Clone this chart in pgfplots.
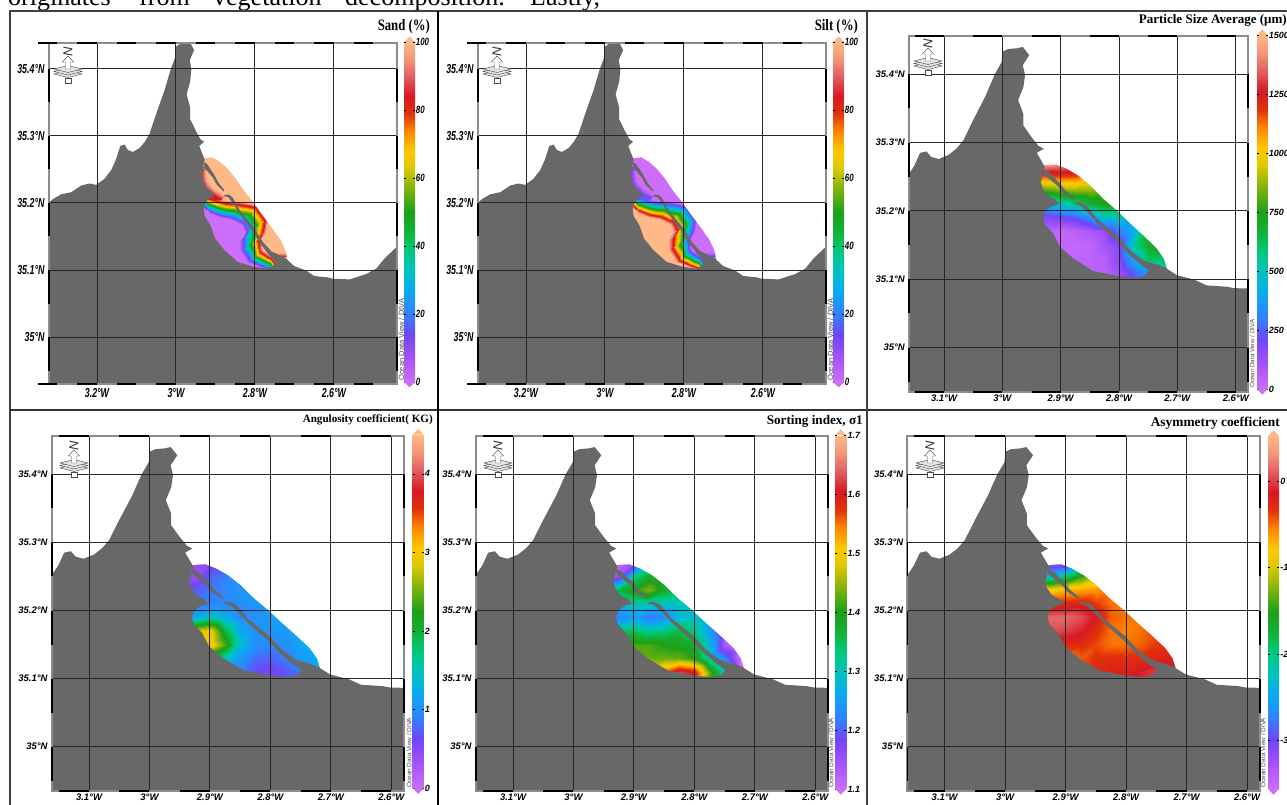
\documentclass[border=0pt]{standalone}
\usepackage{fontspec}
\usepackage{graphicx}
\usepackage{pgfplots}
\usepackage{pgfplotstable}
\pgfplotsset{compat=1.18}
\setmainfont{Liberation Serif}
\newfontfamily\sansf{Liberation Sans}
\definecolor{landc}{RGB}{104,104,104}
\definecolor{odvhi}{RGB}{255,185,135}
\definecolor{odvlo}{RGB}{205,110,250}
\pgfplotsset{colormap={odv}{
 rgb255(0)=(205,110,250) rgb255(8)=(160,80,250) rgb255(14)=(110,70,245) rgb255(20)=(50,130,255)
 rgb255(27)=(10,170,240) rgb255(33)=(0,195,190) rgb255(39)=(0,200,120) rgb255(45)=(20,175,50)
 rgb255(50)=(30,160,25) rgb255(57)=(130,180,10) rgb255(63)=(220,200,0) rgb255(68)=(255,200,0)
 rgb255(74)=(255,130,0) rgb255(79)=(225,50,10) rgb255(84)=(215,25,35) rgb255(90)=(225,95,100)
 rgb255(95)=(245,150,120) rgb255(100)=(255,185,135)}}
% coastline, lon / lat
\pgfplotstableread{
x y
-3.33 35.195
-3.322 35.2
-3.311 35.206
-3.29 35.213
-3.265 35.216
-3.24 35.226
-3.219 35.229
-3.202 35.227
-3.181 35.236
-3.164 35.249
-3.151 35.266
-3.141 35.285
-3.13 35.287
-3.122 35.279
-3.109 35.276
-3.092 35.282
-3.079 35.291
-3.067 35.303
-3.05 35.333
-3.029 35.368
-3.013 35.4
-3.001 35.418
-3.0 35.433
-2.99 35.437
-2.975 35.438
-2.965 35.44
-2.954 35.428
-2.965 35.413
-2.961 35.399
-2.964 35.381
-2.973 35.362
-2.964 35.342
-2.964 35.325
-2.95 35.308
-2.938 35.295
-2.929 35.291
-2.941 35.285
-2.927 35.264
-2.93 35.26
-2.931 35.252
-2.934 35.242
-2.931 35.233
-2.923 35.223
-2.91 35.217
-2.903 35.21
-2.915 35.207
-2.925 35.201
-2.93 35.191
-2.927 35.18
-2.913 35.167
-2.901 35.147
-2.878 35.13
-2.844 35.112
-2.804 35.105
-2.77 35.102
-2.754 35.106
-2.748 35.115
-2.735 35.122
-2.721 35.117
-2.701 35.106
-2.67 35.099
-2.65 35.091
-2.615 35.089
-2.603 35.087
-2.56 35.086
-2.518 35.094
-2.493 35.102
-2.472 35.117
-2.442 35.134
-2.43 35.14
-2.43 34.9
-3.33 34.9
}\landtab
\pgfplotstableread{
x y
-2.9297 35.261
-2.9211 35.258
-2.9011 35.24
-2.8926 35.2302
-2.8771 35.219
-2.8794 35.2171
-2.8971 35.2273
-2.9057 35.2371
-2.9183 35.2459
-2.9286 35.2532
}\stripea
\pgfplotstableread{
x y
-2.8771 35.2117
-2.8669 35.2127
-2.8566 35.2083
-2.8383 35.1888
-2.8011 35.162
-2.7811 35.1424
-2.7583 35.1278
-2.724 35.118
-2.7497 35.1132
-2.7669 35.1244
-2.784 35.1376
-2.8051 35.1571
-2.8366 35.1815
-2.8543 35.1985
-2.8669 35.2083
-2.8783 35.2102
}\stripeb
% sea mask with the sampled area as a hole
\pgfplotstableread{
x y
-2.96 35.085
-2.69 35.085
-2.69 35.275
-2.96 35.275
-2.96 35.085
-2.945 35.09
-2.72 35.09
-2.718 35.116
-2.723 35.13
-2.735 35.145
-2.758 35.164
-2.781 35.182
-2.804 35.201
-2.827 35.218
-2.85 35.238
-2.87 35.252
-2.89 35.262
-2.907 35.268
-2.927 35.267
-2.945 35.262
-2.945 35.09
-2.96 35.085
}\masktab
\pgfplotstableread{
x y
-2.96 35.085
-2.69 35.085
-2.69 35.275
-2.96 35.275
}\baserect
\pgfplotstableread{
x y
-2.9484 35.199
-2.9315 35.194
-2.9147 35.1851
-2.8893 35.1791
-2.8598 35.1757
-2.8345 35.1682
-2.826 35.1568
-2.837 35.1454
-2.8387 35.1295
-2.8176 35.1121
-2.7923 35.1056
-2.7644 35.1007
-2.7459 35.0972
-2.74 35.09
-2.96 35.09
}\lowpoly
\pgfplotstableread{
x y s t
-2.9484 35.199 3 97
-2.9315 35.194 3 97
-2.9147 35.1851 3 97
-2.8893 35.1791 3 97
-2.8598 35.1757 3 97
-2.8345 35.1682 3 97
-2.826 35.1568 3 97
-2.837 35.1454 3 97
-2.8387 35.1295 3 97
-2.8176 35.1121 3 97
-2.7923 35.1056 3 97
-2.7644 35.1007 3 97
-2.7459 35.0972 3 97
-2.9357 35.2114 84 16
-2.9189 35.208 84 16
-2.902 35.204 84 16
-2.8767 35.2005 84 16
-2.8429 35.199 84 16
-2.7965 35.194 84 16
-2.7754 35.1742 84 16
-2.7796 35.1583 84 16
-2.7923 35.1444 84 16
-2.7864 35.127 84 16
-2.7628 35.1185 84 16
-2.7459 35.1071 84 16
-2.7206 35.1046 84 16
-2.9315 35.2139 100 0
-2.9147 35.2114 100 0
-2.8978 35.2075 100 0
-2.8741 35.204 100 0
-2.8404 35.203 100 0
-2.7906 35.1975 100 0
-2.7678 35.1742 100 0
-2.7712 35.1568 100 0
-2.7855 35.1444 100 0
-2.7796 35.1295 100 0
-2.756 35.122 100 0
-2.7391 35.1096 100 0
-2.7138 35.1071 100 0
}\bandtab
\pgfplotstableread{
x y s t
-2.9568 35.2537 84 16
-2.9568 35.2412 84 16
-2.9526 35.2288 84 16
-2.9442 35.2164 84 16
-2.9273 35.2065 84 16
-2.8893 35.204 84 16
-2.9332 35.2537 84 16
-2.9357 35.2412 84 16
-2.9332 35.2313 84 16
-2.9248 35.2214 84 16
-2.9104 35.2149 84 16
-2.8851 35.2065 84 16
-2.9214 35.2537 100 0
-2.9231 35.2437 100 0
-2.9206 35.2348 100 0
-2.9121 35.2263 100 0
-2.8978 35.2189 100 0
-2.8767 35.2114 100 0
}\rimtab
\pgfplotstableread{
x y s t
-2.7585 35.127 100 0
-2.7206 35.127 100 0
-2.7585 35.1185 84 16
-2.7206 35.121 84 16
}\tiptab
% sampled values: mean size, KG, sorting, asymmetry
\pgfplotstableread{
x y a b c d
-2.95 35.27 1500 .4 1.1 -3.3
-2.925 35.27 1480 .4 1.11 -3.3
-2.9 35.27 1450 .5 1.15 -3.2
-2.875 35.27 1400 .7 1.28 -2.5
-2.85 35.27 1350 .9 1.3 -1.9
-2.825 35.27 1300 1 1.32 -1.3
-2.8 35.27 1200 1.1 1.3 -.9
-2.775 35.27 1100 1.1 1.25 -.6
-2.75 35.27 1000 1.1 1.2 -.5
-2.725 35.27 900 1.1 1.15 -.4
-2.7 35.27 800 1.1 1.1 -.3
-2.95 35.25 1150 .4 1.12 -2.6
-2.925 35.25 1130 .4 1.15 -2.3
-2.9 35.25 1160 .75 1.32 -2.0
-2.875 35.25 1150 .9 1.38 -1.5
-2.85 35.25 1050 1.05 1.36 -1.1
-2.825 35.25 1000 1.15 1.34 -.75
-2.8 35.25 950 1.15 1.3 -.6
-2.775 35.25 900 1.15 1.25 -.5
-2.75 35.25 850 1.15 1.2 -.4
-2.725 35.25 800 1.15 1.15 -.3
-2.7 35.25 750 1.15 1.1 -.3
-2.95 35.23 800 .7 1.3 -.7
-2.925 35.23 800 .7 1.36 -.8
-2.9 35.23 850 .85 1.4 -.7
-2.875 35.23 880 .95 1.44 -.65
-2.85 35.23 870 1.05 1.38 -.6
-2.825 35.23 830 1.15 1.34 -.55
-2.8 35.23 800 1.2 1.3 -.55
-2.775 35.23 780 1.2 1.26 -.5
-2.75 35.23 750 1.2 1.2 -.4
-2.725 35.23 750 1.2 1.15 -.3
-2.7 35.23 700 1.2 1.1 -.3
-2.95 35.21 450 .9 1.26 -.3
-2.925 35.21 450 .9 1.28 -.3
-2.9 35.21 480 .9 1.3 -.25
-2.875 35.21 560 .95 1.3 -.2
-2.85 35.21 680 1 1.3 -.35
-2.825 35.21 740 1.05 1.3 -.5
-2.8 35.21 700 1.15 1.3 -.55
-2.775 35.21 680 1.2 1.27 -.5
-2.75 35.21 680 1.2 1.2 -.4
-2.725 35.21 680 1.2 1.15 -.3
-2.7 35.21 650 1.2 1.1 -.3
-2.95 35.19 150 1.1 1.22 .15
-2.925 35.19 160 1.2 1.22 .15
-2.9 35.19 190 1.5 1.25 .15
-2.875 35.19 220 1.2 1.21 .05
-2.85 35.19 320 .95 1.23 -.15
-2.825 35.19 470 1 1.28 -.45
-2.8 35.19 500 1.1 1.29 -.5
-2.775 35.19 450 1.2 1.25 -.5
-2.75 35.19 500 1.2 1.2 -.4
-2.725 35.19 600 1.2 1.15 -.3
-2.7 35.19 650 1.2 1.1 -.3
-2.95 35.17 50 2.8 1.34 .1
-2.925 35.17 50 2.8 1.34 .05
-2.9 35.17 30 3 1.35 0
-2.875 35.17 50 2 1.32 -.1
-2.85 35.17 90 1.2 1.33 -.3
-2.825 35.17 130 1 1.36 -.5
-2.8 35.17 300 1.05 1.33 -.55
-2.775 35.17 430 1.1 1.24 -.5
-2.75 35.17 680 1.2 1.15 -.4
-2.725 35.17 700 1.2 1.1 -.3
-2.7 35.17 700 1.2 1.1 -.2
-2.95 35.15 30 3 1.4 -.3
-2.925 35.15 30 3 1.42 -.3
-2.9 35.15 30 3.1 1.42 -.25
-2.875 35.15 25 2.4 1.42 -.3
-2.85 35.15 30 1.4 1.4 -.4
-2.825 35.15 100 1 1.39 -.5
-2.8 35.15 170 .95 1.38 -.5
-2.775 35.15 550 1 1.28 -.45
-2.75 35.15 700 1.2 1.13 -.35
-2.725 35.15 720 1.25 1.1 -.3
-2.7 35.15 700 1.25 1.1 -.2
-2.95 35.13 30 2 1.42 -.6
-2.925 35.13 30 2 1.42 -.55
-2.9 35.13 30 2 1.42 -.55
-2.875 35.13 40 1.5 1.43 -.45
-2.85 35.13 40 1.1 1.43 -.3
-2.825 35.13 60 .8 1.43 -.3
-2.8 35.13 170 .75 1.4 -.3
-2.775 35.13 400 .9 1.3 -.3
-2.75 35.13 620 1.1 1.22 -.25
-2.725 35.13 600 1.25 1.1 -.2
-2.7 35.13 520 1.25 1.1 -.15
-2.95 35.11 40 1.3 1.45 -.5
-2.925 35.11 40 1.3 1.45 -.5
-2.9 35.11 40 1.2 1.45 -.5
-2.875 35.11 40 1.1 1.5 -.4
-2.85 35.11 50 .9 1.56 -.25
-2.825 35.11 50 .65 1.63 -.2
-2.8 35.11 120 .55 1.6 -.2
-2.775 35.11 250 .7 1.42 -.1
-2.75 35.11 350 .85 1.3 0
-2.725 35.11 500 1.2 1.1 -.1
-2.7 35.11 500 1.2 1.1 -.1
-2.95 35.09 40 1.3 1.45 -.5
-2.925 35.09 40 1.3 1.45 -.5
-2.9 35.09 40 1.2 1.45 -.5
-2.875 35.09 40 1.1 1.5 -.4
-2.85 35.09 50 .9 1.56 -.25
-2.825 35.09 50 .65 1.63 -.2
-2.8 35.09 120 .55 1.6 -.2
-2.775 35.09 250 .7 1.42 -.1
-2.75 35.09 350 .85 1.3 0
-2.725 35.09 500 1.2 1.1 -.1
-2.7 35.09 500 1.2 1.1 -.1
}\meshtab

\newcommand\coast{%
 \addplot[fill=white,draw=none,even odd rule] table[x=x,y=y] {\masktab};
 \addplot[fill=landc,draw=none] table[x=x,y=y] {\landtab};
 \addplot[fill=landc,draw=none] table[x=x,y=y] {\stripea};
 \addplot[fill=landc,draw=none] table[x=x,y=y] {\stripeb};
}
\newcommand\framedash[2]{%
 \draw[black!45,line width=2pt] (rel axis cs:0,0) rectangle (rel axis cs:1,1);
 \foreach \a in {#1}{\pgfmathsetmacro\aa{\a-0.05}%
  \draw[black,line width=1.8pt] (axis cs:\aa,\YMAX)--(axis cs:\a,\YMAX);
  \draw[black,line width=1.8pt] (axis cs:\aa,\YMIN)--(axis cs:\a,\YMIN);}
 \foreach \b in {#2}{\pgfmathsetmacro\bb{\b-0.05}%
  \draw[black,line width=1.8pt] (axis cs:\XMIN,\bb)--(axis cs:\XMIN,\b);
  \draw[black,line width=1.8pt] (axis cs:\XMAX,\bb)--(axis cs:\XMAX,\b);}
}
\pgfplotsset{
 odvpanel/.style={scale only axis,axis on top,colormap name=odv,
  grid=major,grid style={black!85,line width=0.95pt},
  axis line style={draw=none},major tick length=0pt,
  ytick={35,35.1,35.2,35.3,35.4},yticklabels={35°N,35.1°N,35.2°N,35.3°N,35.4°N},
  colorbar},
 narrowtext/.style={
  xtick={-3.2,-3,-2.8,-2.6},xticklabels={3.2°W,3°W,2.8°W,2.6°W},
  xticklabel style={font=\sansf\bfseries\itshape\fontsize{13}{13}\selectfont,xscale=.68,inner sep=1pt,yshift=-3pt},
  yticklabel style={font=\sansf\bfseries\itshape\fontsize{13}{13}\selectfont,xscale=.68,inner sep=1pt,xshift=-5.5pt}},
 widetext/.style={
  xtick={-3.1,-3,-2.9,-2.8,-2.7,-2.6},xticklabels={3.1°W,3°W,2.9°W,2.8°W,2.7°W,2.6°W},
  xticklabel style={font=\sansf\bfseries\itshape\fontsize{9.5}{9.5}\selectfont,inner sep=1pt,yshift=-2pt},
  yticklabel style={font=\sansf\bfseries\itshape\fontsize{9.5}{9.5}\selectfont,inner sep=1pt,xshift=-3pt}},
 barstyle/.style n args={6}{colorbar style={
  at={(parent axis.south east)},anchor=south west,xshift=#1pt,yshift=#2pt,
  scale only axis,width=#3pt,height=#4pt,axis line style={draw=none},
  ytick={#5},yticklabels={#6},
  major tick length=2pt,ytick style={black,line width=.7pt},
  extra description/.code={
   \fill[odvhi] (axis description cs:0,1)--(axis description cs:.5,1.016)--(axis description cs:1,1)--cycle;
   \fill[odvlo] (axis description cs:0,0)--(axis description cs:.5,-.016)--(axis description cs:1,0)--cycle;}}},
 barnarrow/.style={colorbar style={yticklabel style={font=\sansf\bfseries\itshape\fontsize{10.5}{10.5}\selectfont,xscale=.75,inner sep=1pt}}},
 barwide/.style={colorbar style={yticklabel style={font=\sansf\bfseries\itshape\fontsize{9}{9}\selectfont,inner sep=1pt}}},
}
\newcommand\rose[2]{%
 \begin{scope}[shift={(#1,{805-#2})},line width=.45pt,draw=black!70]
  \node[font=\sansf\itshape\fontsize{13}{13}\selectfont,rotate=90,text=black!80,inner sep=0pt] at (0,16.5) {N};
  \foreach \k in {-6,-3.5,-1}{\draw[fill=black!10] (-14,\k)--(0,\k+3.5)--(14,\k)--(0,\k-3.5)--cycle;}
  \draw[fill=white] (-2.5,-1)--(-2.5,6)--(-5.5,6)--(0,12)--(5.5,6)--(2.5,6)--(2.5,-1)--cycle;
  \draw[fill=white,line width=.9pt] (-3,-15)rectangle(3,-10.5);
 \end{scope}}
\newcommand\titlenode[4]{\node[anchor=east,inner sep=0pt] at (#1,{805-#2}) {\resizebox{#3pt}{!}{\bfseries #4}};}
\newcommand\titletall[5]{\node[anchor=east,inner sep=0pt] at (#1,{805-#2}) {\resizebox{#3pt}{#4pt}{\bfseries #5}};}
\newcommand\odvnote[3]{\node[rotate=90,anchor=west,inner sep=0pt,text=black!70,font=\sansf\fontsize{6.3}{6.3}\selectfont] at (#1,{805-#2}) {\resizebox{#3pt}{!}{Ocean Data View / DIVA}};}

\begin{document}
\begin{tikzpicture}[x=1pt,y=1pt]
\useasboundingbox (0,0) rectangle (1287,805);
% running text above the figure
\foreach \px/\w in {8/originates,139/from,213/vegetation,345/decomposition.,530/{Lastly,}}{
 \node[anchor=base west,inner sep=0pt,font=\fontsize{26}{26}\selectfont] at (\px,799) {\w};}
% table rules
\draw[black!75,line width=1.2pt] (10,0)--(10,794)--(1287,794);
\draw[black!80,line width=1.2pt] (10,395)--(1287,395);
\draw[black,line width=1.6pt] (438,794)--(438,0);
\draw[black!75,line width=1.2pt] (867,794)--(867,0);

% ---------- Sand
\def\XMIN{-3.3215}\def\XMAX{-2.441}\def\YMIN{34.93}\def\YMAX{35.439}
\begin{axis}[at={(49pt,421pt)},anchor=south west,width=347.7pt,height=341.3pt,odvpanel,narrowtext,
 xmin=-3.3215,xmax=-2.441,ymin=34.93,ymax=35.439,point meta min=0,point meta max=100,
 barstyle={-1.2}{2}{11}{340}{0,20,40,60,80,100}{0,20,40,60,80,100},barnarrow,
 after end axis/.code={\framedash{-3.3,-3.2,-3.1,-3,-2.9,-2.8,-2.7,-2.6,-2.5}{35,35.1,35.2,35.3,35.4}}]
 \addplot[fill=odvhi,draw=none] table[x=x,y=y] {\baserect};
 \addplot[fill=odvlo,draw=none] table[x=x,y=y] {\lowpoly};
 \addplot[surf,shader=interp,mesh/rows=3,point meta=\thisrow{s}] table[x=x,y=y] {\bandtab};
 \addplot[surf,shader=interp,mesh/rows=3,point meta=\thisrow{s}] table[x=x,y=y] {\rimtab};
 \addplot[surf,shader=interp,mesh/rows=2,point meta=\thisrow{s}] table[x=x,y=y] {\tiptab};
 \coast
\end{axis}
% ---------- Silt
\def\XMIN{-3.3215}\def\XMAX{-2.441}\def\YMIN{34.93}\def\YMAX{35.439}
\begin{axis}[at={(478pt,421pt)},anchor=south west,width=347.7pt,height=341.3pt,odvpanel,narrowtext,
 xmin=-3.3215,xmax=-2.441,ymin=34.93,ymax=35.439,point meta min=0,point meta max=100,
 barstyle={-1.2}{2}{11}{340}{0,20,40,60,80,100}{0,20,40,60,80,100},barnarrow,
 after end axis/.code={\framedash{-3.3,-3.2,-3.1,-3,-2.9,-2.8,-2.7,-2.6,-2.5}{35,35.1,35.2,35.3,35.4}}]
 \addplot[fill=odvlo,draw=none] table[x=x,y=y] {\baserect};
 \addplot[fill=odvhi,draw=none] table[x=x,y=y] {\lowpoly};
 \addplot[surf,shader=interp,mesh/rows=3,point meta=\thisrow{t}] table[x=x,y=y] {\bandtab};
 \addplot[surf,shader=interp,mesh/rows=3,point meta=\thisrow{t}] table[x=x,y=y] {\rimtab};
 \addplot[surf,shader=interp,mesh/rows=2,point meta=\thisrow{t}] table[x=x,y=y] {\tiptab};
 \coast
\end{axis}
% ---------- Particle size
\def\XMIN{-3.16}\def\XMAX{-2.579}\def\YMIN{34.935}\def\YMAX{35.456}
\begin{axis}[at={(909pt,413pt)},anchor=south west,width=339pt,height=356pt,odvpanel,widetext,
 xmin=-3.16,xmax=-2.579,ymin=34.935,ymax=35.456,point meta min=0,point meta max=1500,
 barstyle={.5}{3}{10.5}{354}{0,250,500,750,1000,1250,1500}{0,250,500,750,1000,1250,1500},barwide,
 after end axis/.code={\framedash{-3.1,-3,-2.9,-2.8,-2.7,-2.6}{35,35.1,35.2,35.3,35.4}}]
 \addplot[surf,shader=interp,mesh/rows=10,point meta=\thisrow{a}] table[x=x,y=y] {\meshtab};
 \coast
\end{axis}
% ---------- Angulosity
\def\XMIN{-3.1617}\def\XMAX{-2.5785}\def\YMIN{34.935}\def\YMAX{35.4567}
\begin{axis}[at={(51.7pt,14pt)},anchor=south west,width=352.6pt,height=355.3pt,odvpanel,widetext,
 xmin=-3.1617,xmax=-2.5785,ymin=34.935,ymax=35.4567,point meta min=0,point meta max=4.5,
 barstyle={-.1}{2.7}{11}{353.7}{0,1,2,3,4}{0,1,2,3,4},barwide,
 after end axis/.code={\framedash{-3.1,-3,-2.9,-2.8,-2.7,-2.6}{35,35.1,35.2,35.3,35.4}}]
 \addplot[surf,shader=interp,mesh/rows=10,point meta=\thisrow{b}] table[x=x,y=y] {\meshtab};
 \coast
\end{axis}
% ---------- Sorting
\def\XMIN{-3.1617}\def\XMAX{-2.5785}\def\YMIN{34.935}\def\YMAX{35.4567}
\begin{axis}[at={(475.7pt,14pt)},anchor=south west,width=352.6pt,height=355.3pt,odvpanel,widetext,
 xmin=-3.1617,xmax=-2.5785,ymin=34.935,ymax=35.4567,point meta min=1.1,point meta max=1.7,
 barstyle={-1.5}{2}{11}{354}{1.1,1.2,1.3,1.4,1.5,1.6,1.7}{1.1,1.2,1.3,1.4,1.5,1.6,1.7},barwide,
 after end axis/.code={\framedash{-3.1,-3,-2.9,-2.8,-2.7,-2.6}{35,35.1,35.2,35.3,35.4}}]
 \addplot[surf,shader=interp,mesh/rows=10,point meta=\thisrow{c}] table[x=x,y=y] {\meshtab};
 \coast
\end{axis}
% ---------- Asymmetry
\def\XMIN{-3.1617}\def\XMAX{-2.5785}\def\YMIN{34.935}\def\YMAX{35.4567}
\begin{axis}[at={(907.4pt,14pt)},anchor=south west,width=352.6pt,height=355.3pt,odvpanel,widetext,
 xmin=-3.1617,xmax=-2.5785,ymin=34.935,ymax=35.4567,point meta min=-3.56,point meta max=.52,
 barstyle={-.5}{2}{11}{353}{-3,-2,-1,0}{-3,-2,-1,0},barwide,
 after end axis/.code={\framedash{-3.1,-3,-2.9,-2.8,-2.7,-2.6}{35,35.1,35.2,35.3,35.4}}]
 \addplot[surf,shader=interp,mesh/rows=10,point meta=\thisrow{d}] table[x=x,y=y] {\meshtab};
 \coast
\end{axis}
% titles
\titletall{430}{27}{52}{11}{Sand (\%)}
\titletall{858}{27}{43}{11}{Silt (\%)}
\titlenode{1287}{20}{148}{Particle Size Average (μm)}
\titlenode{433}{420}{130}{Angulosity coefficient( KG)}
\titlenode{863}{421}{96}{Sorting index, σ1}
\titlenode{1280}{423}{129}{Asymmetry coefficient}
% compass roses
\rose{68}{68}\rose{497}{68}\rose{928}{60}\rose{74}{462}\rose{498}{462}\rose{930}{462}
% map credit
\odvnote{401.5}{381}{82}\odvnote{830.5}{381}{82}\odvnote{1252}{388}{68}\odvnote{409}{788}{70}\odvnote{831}{788}{70}\odvnote{1263}{788}{70}
\end{tikzpicture}
\end{document}
